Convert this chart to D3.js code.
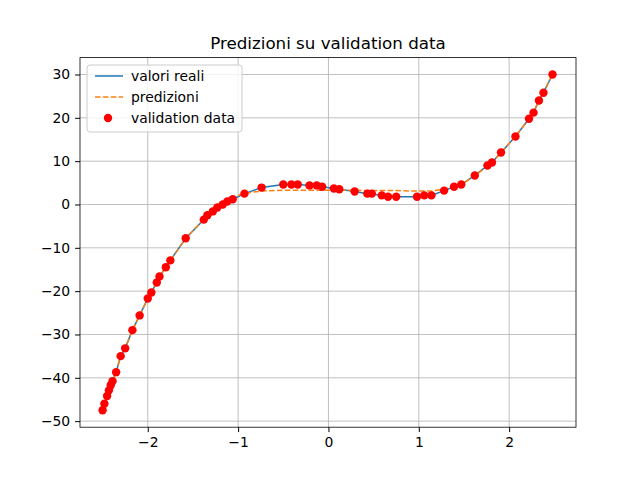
<!DOCTYPE html>
<html><head><meta charset="utf-8">
<script src="https://cdn.jsdelivr.net/npm/d3@7"></script>
<style>body{margin:0;background:#fff}text{font-family:"DejaVu Sans",sans-serif}</style>
</head><body><div id="chart"></div>
<script>
// validation points (x, y)
const xs = [-2.50,-2.48,-2.45,-2.43,-2.41,-2.39,-2.35,-2.30,-2.25,-2.17,-2.09,-2.00,-1.96,-1.90,-1.87,-1.80,-1.75,-1.58,-1.38,-1.34,-1.28,-1.23,-1.17,-1.12,-1.06,-0.93,-0.74,-0.50,-0.41,-0.34,-0.21,-0.13,-0.07,0.06,0.12,0.29,0.43,0.48,0.59,0.66,0.75,0.98,1.06,1.14,1.28,1.39,1.47,1.62,1.76,1.81,1.91,2.07,2.22,2.27,2.33,2.38,2.48];
const ys = [-47.5,-46,-44.2,-42.9,-41.7,-40.8,-38.7,-35,-33.2,-29,-25.6,-21.7,-20.3,-18,-16.6,-14.5,-12.9,-7.8,-3.5,-2.5,-1.6,-0.7,0,0.7,1.2,2.5,3.9,4.6,4.6,4.6,4.4,4.4,4.1,3.7,3.5,3.0,2.5,2.5,2.1,1.8,1.8,1.8,2.1,2.1,3.2,4.1,4.6,6.7,9.0,9.7,12.0,15.7,19.8,21.2,24,25.8,30];
const yPred = [-47.5,-46,-44.2,-42.9,-41.7,-40.8,-38.7,-35,-33.2,-29,-25.6,-21.7,-20.3,-18,-16.6,-14.5,-12.9,-7.8,-3.4,-2.4,-1.4,-0.5,0.3,1.0,1.6,2.6,3.1,3.3,3.3,3.3,3.3,3.3,3.3,3.3,3.3,3.3,3.2,3.2,3.2,3.2,3.2,3.1,3.1,3.1,3.5,4.1,4.6,6.6,8.9,9.7,12.0,15.7,19.8,21.2,24,25.8,30];
const xTicks = [-2,-1,0,1,2];
const yTicks = [-50,-40,-30,-20,-10,0,10,20,30];

const W = 640, H = 480, L = 80, R = 576, T = 57.6, B = 427.2;
const svg = d3.select("#chart").append("svg").attr("width", W).attr("height", H);
const x = d3.scaleLinear().domain([-2.75, 2.74]).range([L, R]);
const y = d3.scaleLinear().domain([-51.4, 33.9]).range([B, T]);
const fmt = d => String(d).replace("-", "\u2212");

// grid
svg.append("g").selectAll("line").data(xTicks).enter().append("line")
  .attr("x1", d => x(d)).attr("x2", d => x(d)).attr("y1", T).attr("y2", B)
  .attr("stroke", "#b0b0b0").attr("stroke-width", 0.8);
svg.append("g").selectAll("line").data(yTicks).enter().append("line")
  .attr("y1", d => y(d)).attr("y2", d => y(d)).attr("x1", L).attr("x2", R)
  .attr("stroke", "#b0b0b0").attr("stroke-width", 0.8);

// axes
const ax = svg.append("g").attr("transform", "translate(0," + B + ")")
  .call(d3.axisBottom(x).tickValues(xTicks).tickFormat(fmt).tickSize(4.9).tickPadding(4.9));
const ay = svg.append("g").attr("transform", "translate(" + L + ",0)")
  .call(d3.axisLeft(y).tickValues(yTicks).tickFormat(fmt).tickSize(4.9).tickPadding(4.9));
[ax, ay].forEach(a => {
  a.selectAll("text").style("font-size", "13.9px").attr("fill", "#000");
  a.select(".domain").remove();
});
svg.append("rect").attr("x", L).attr("y", T).attr("width", R - L).attr("height", B - T)
  .attr("fill", "none").attr("stroke", "#000").attr("stroke-width", 0.8);

// lines
const line = d3.line().x(d => x(d[0])).y(d => y(d[1]));
svg.append("path").datum(xs.map((v, i) => [v, ys[i]])).attr("d", line)
  .attr("fill", "none").attr("stroke", "#1f77b4").attr("stroke-width", 1.5);
svg.append("path").datum(xs.map((v, i) => [v, yPred[i]])).attr("d", line)
  .attr("fill", "none").attr("stroke", "#ff7f0e").attr("stroke-width", 1.5).attr("stroke-dasharray", "5.5,2.4");

// points
svg.append("g").selectAll("circle").data(xs).enter().append("circle")
  .attr("cx", d => x(d)).attr("cy", (d, i) => y(ys[i])).attr("r", 4.2).attr("fill", "red");

// title
svg.append("text").attr("x", (L + R) / 2).attr("y", 49).attr("text-anchor", "middle")
  .style("font-size", "16.7px").text("Predizioni su validation data");

// legend
const lg = svg.append("g").attr("transform", "translate(87,65)");
lg.append("rect").attr("width", 155).attr("height", 67).attr("rx", 3)
  .attr("fill", "#fff").attr("fill-opacity", 0.8).attr("stroke", "#ccc");
const items = [["valori reali", "line"], ["predizioni", "dash"], ["validation data", "dot"]];
items.forEach((it, i) => {
  const cy = 11 + i * 21;
  if (it[1] === "dot") lg.append("circle").attr("cx", 21).attr("cy", cy).attr("r", 4.2).attr("fill", "red");
  else lg.append("line").attr("x1", 8).attr("x2", 36).attr("y1", cy).attr("y2", cy)
    .attr("stroke", it[1] === "line" ? "#1f77b4" : "#ff7f0e").attr("stroke-width", 1.5)
    .attr("stroke-dasharray", it[1] === "dash" ? "5.5,2.4" : null);
  lg.append("text").attr("x", 44).attr("y", cy + 5).style("font-size", "13.9px").text(it[0]);
});
</script></body></html>
